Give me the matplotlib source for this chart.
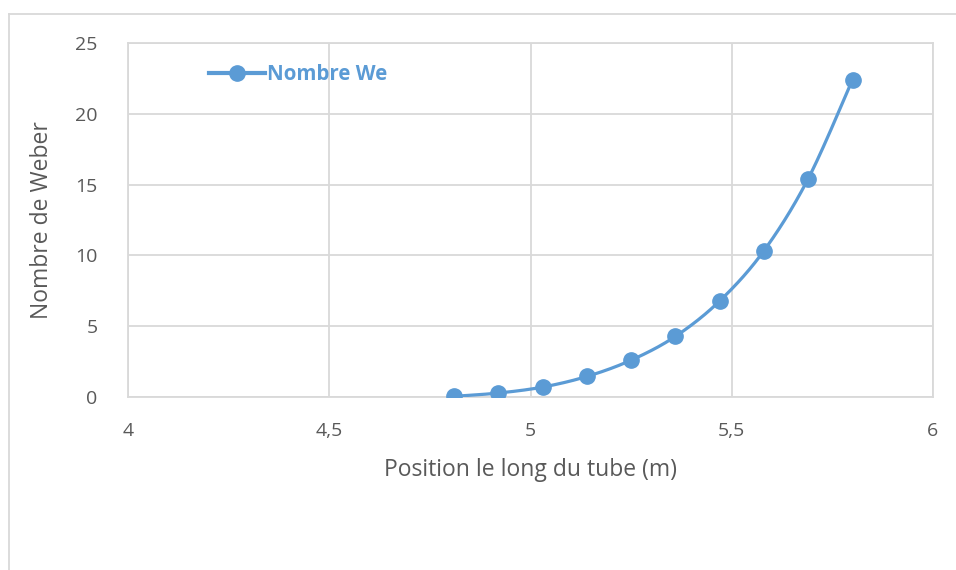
import numpy as np
import matplotlib
matplotlib.use("Agg")
import matplotlib.pyplot as plt
from matplotlib.lines import Line2D

# Weber number along the tube
position = [4.81, 4.92, 5.03, 5.14, 5.25, 5.36, 5.47, 5.58, 5.69, 5.80]
weber = [0.05, 0.28, 0.70, 1.45, 2.60, 4.28, 6.78, 10.33, 15.42, 22.41]
x_ticks = [4, 4.5, 5, 5.5, 6]
x_tick_labels = ["4", "4,5", "5", "5,5", "6"]
y_ticks = [0, 5, 10, 15, 20, 25]
series_name = "Nombre We"
x_title = "Position le long du tube (m)"
y_title = "Nombre de Weber"

BLUE = "#5b9bd5"
GRID = "#d9d9d9"
TEXT = "#595959"

plt.rcParams["font.family"] = ["Open Sans", "DejaVu Sans"]


def smooth_curve(xs, ys, n=40, tension=1 / 6):
    """Bezier smoothing through every point (spreadsheet-style smoothed line)."""
    xs = np.asarray(xs, float)
    ys = np.asarray(ys, float)
    px = np.concatenate([[xs[0]], xs, [xs[-1]]])
    py = np.concatenate([[ys[0]], ys, [ys[-1]]])
    out_x, out_y = [], []
    t = np.linspace(0, 1, n)
    for i in range(1, len(px) - 2):
        p0 = np.array([px[i], py[i]])
        p3 = np.array([px[i + 1], py[i + 1]])
        c1 = p0 + tension * (np.array([px[i + 1], py[i + 1]]) - np.array([px[i - 1], py[i - 1]]))
        c2 = p3 - tension * (np.array([px[i + 2], py[i + 2]]) - np.array([px[i], py[i]]))
        b = ((1 - t) ** 3)[:, None] * p0 + (3 * (1 - t) ** 2 * t)[:, None] * c1 \
            + (3 * (1 - t) * t ** 2)[:, None] * c2 + (t ** 3)[:, None] * p3
        out_x.extend(b[:, 0])
        out_y.extend(b[:, 1])
    return np.array(out_x), np.array(out_y)


W, H = 956, 570
fig = plt.figure(figsize=(W / 100, H / 100), dpi=100)
fig.patch.set_facecolor("white")

# chart frame
fig.add_artist(Line2D([8.5 / W, 8.5 / W], [0, 1 - 13.5 / H], transform=fig.transFigure,
                      color=GRID, lw=1.3))
fig.add_artist(Line2D([8.5 / W, 1], [1 - 13.5 / H, 1 - 13.5 / H], transform=fig.transFigure,
                      color=GRID, lw=1.3))

left, right, top, bottom = 128, 933, 43, 397
ax = fig.add_axes([left / W, 1 - bottom / H, (right - left) / W, (bottom - top) / H])

sx, sy = smooth_curve(position, weber)
ax.plot(sx, sy, color=BLUE, lw=2.3, solid_capstyle="round", zorder=3)
ax.plot(position, weber, "o", color=BLUE, ms=11, zorder=4)

ax.set_xlim(4, 6)
ax.set_ylim(0, 25)
ax.set_xticks(x_ticks)
ax.set_xticklabels(x_tick_labels)
ax.set_yticks(y_ticks)
ax.grid(True, color=GRID, lw=1.3)
ax.set_axisbelow(True)
for s in ax.spines.values():
    s.set_color(GRID)
    s.set_linewidth(1.3)
ax.tick_params(length=0, labelsize=14, labelcolor=TEXT)
ax.tick_params(axis="x", pad=18)
ax.tick_params(axis="y", pad=22)
ax.set_xlabel(x_title, fontsize=16.5, color=TEXT, labelpad=13)
ax.set_ylabel(y_title, fontsize=16.5, color=TEXT, labelpad=15)

handle = Line2D([], [], color=BLUE, lw=3, marker="o", ms=11)
leg = ax.legend([handle], [series_name], loc="center left",
                bbox_to_anchor=(203 / W, 1 - 75 / H), bbox_transform=fig.transFigure,
                frameon=False, handlelength=2.7, handletextpad=0.12,
                borderaxespad=0, borderpad=0.3,
                prop={"weight": "bold", "size": 14.8})
for txt in leg.get_texts():
    txt.set_color(BLUE)

fig.savefig("out.png", dpi=100, facecolor="white")
